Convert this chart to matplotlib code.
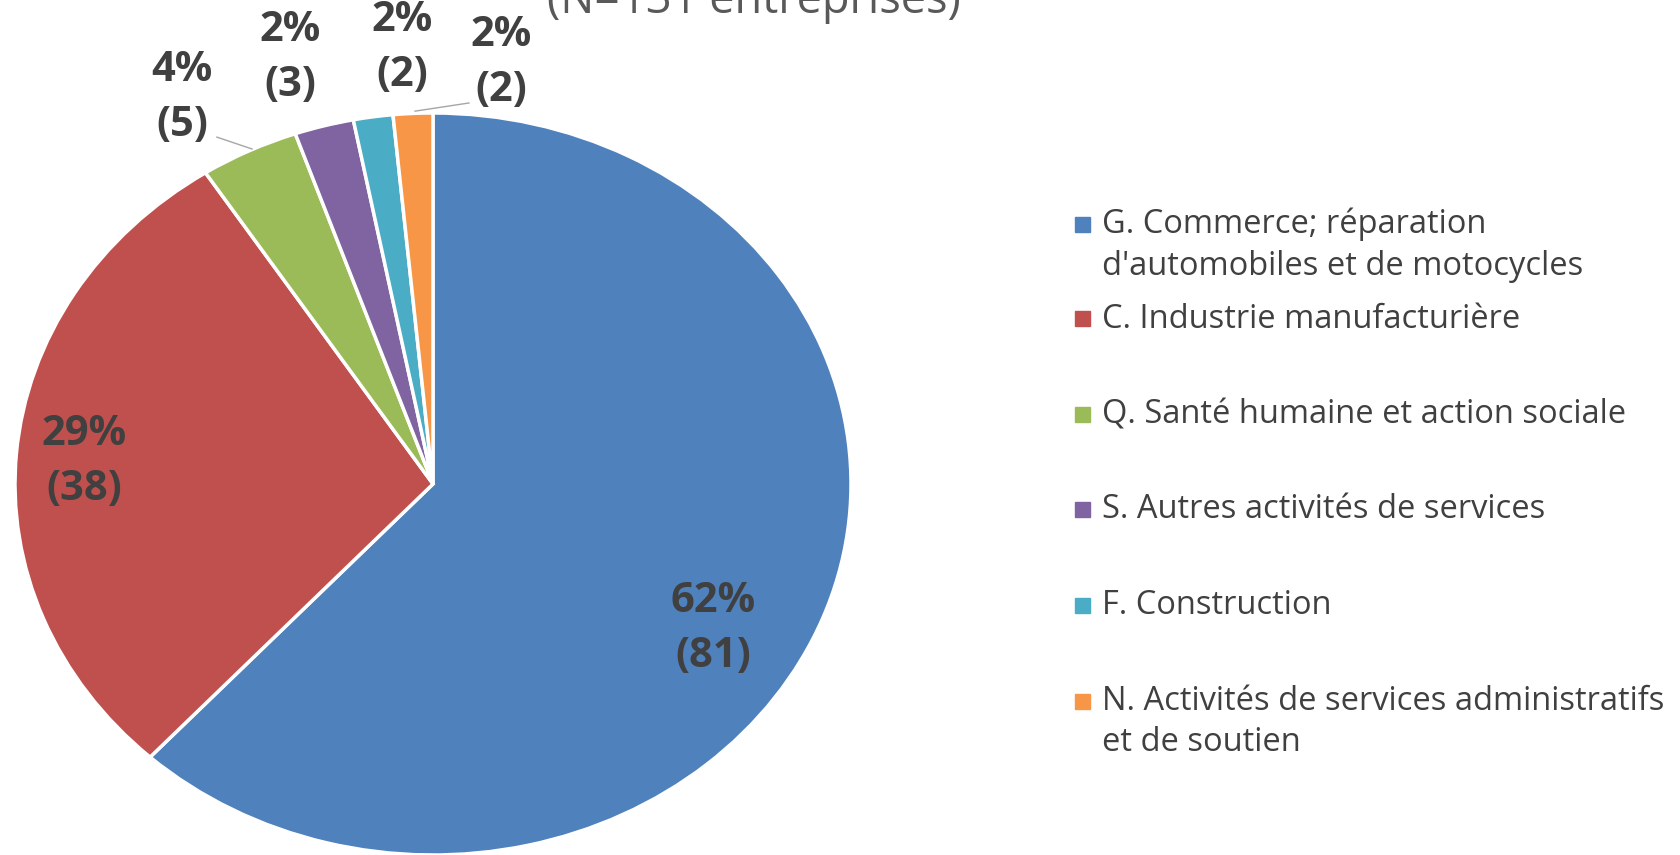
import matplotlib.pyplot as plt
from matplotlib.patches import Rectangle

plt.rcParams['font.family'] = ['Open Sans', 'DejaVu Sans']

categories = ["G. Commerce; réparation\nd'automobiles et de motocycles",
              "C. Industrie manufacturière",
              "Q. Santé humaine et action sociale",
              "S. Autres activités de services",
              "F. Construction",
              "N. Activités de services administratifs\net de soutien"]
counts = [81, 38, 5, 3, 2, 2]
colors = ['#4F81BD', '#C0504D', '#9BBB59', '#8064A2', '#4BACC6', '#F79646']
title = "(N=131 entreprises)"

W, H = 1680, 855
fig = plt.figure(figsize=(W / 100, H / 100), dpi=100)

# pie is an ellipse in the original, so let the axes stretch it
cx, cy, rx, ry = 433, 484, 418, 371
ax = fig.add_axes([(cx - rx) / W, (H - cy - ry) / H, 2 * rx / W, 2 * ry / H])
ax.pie(counts, colors=colors, startangle=90, counterclock=False,
       wedgeprops=dict(edgecolor='white', linewidth=2.5))
ax.set_aspect('auto')
ax.set_xlim(-1, 1)
ax.set_ylim(-1, 1)
ax.axis('off')

total = sum(counts)
# label positions (data coords) as in the original
label_pos = [(0.67, -0.39), (-0.835, 0.06), (-0.60, 1.04),
             (-0.342, 1.148), (-0.074, 1.175), (0.163, 1.135)]
for c, (x, y) in zip(counts, label_pos):
    ax.text(x, y, f"{round(100 * c / total)}%\n({c})", ha='center', va='center',
            fontsize=30, fontweight='bold', color='#404040', linespacing=1.45)

# leader lines for the small slices
ax.plot([-0.517, -0.433], [0.935, 0.903], color='#A6A6A6', lw=1, clip_on=False)
ax.plot([-0.043, 0.086], [1.005, 1.027], color='#A6A6A6', lw=1, clip_on=False)

fig.text(754 / W, 1 - 13 / H, title, ha='center', va='baseline',
         fontsize=32.5, color='#595959')

# legend, placed like the original
legend_y = [225, 319, 415, 510, 606, 702]
line_h = 40
for lab, col, py in zip(categories, colors, legend_y):
    fig.patches.append(Rectangle((1075 / W, 1 - (py + 7) / H), 15 / W, 15 / H,
                                 transform=fig.transFigure, color=col))
    nl = lab.count('\n')
    fig.text(1102 / W, 1 - (py + nl * line_h / 2) / H, lab, ha='left', va='center',
             fontsize=23.5, color='#404040', linespacing=1.35)

fig.savefig('out.png', dpi=100)
